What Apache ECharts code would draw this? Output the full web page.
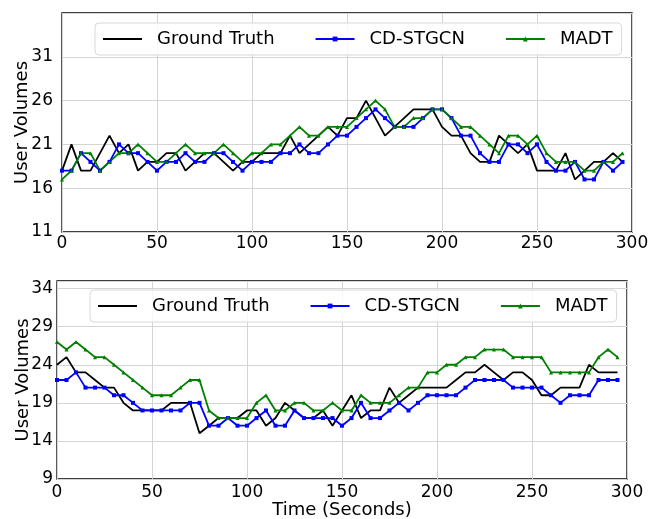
<!DOCTYPE html>
<html>
<head>
<meta charset="utf-8">
<script src="https://cdn.jsdelivr.net/npm/echarts@6/dist/echarts.min.js"></script>
<style>
html,body{margin:0;padding:0;background:#fff;}
#chart{width:662px;height:519px;}
</style>
</head>
<body>
<div id="chart"></div>
<script>
const times = [0,5,10,15,20,25,30,35,40,45,50,55,60,65,70,75,80,85,90,95,
  100,105,110,115,120,125,130,135,140,145,150,155,160,165,170,175,180,185,190,195,
  200,205,210,215,220,225,230,235,240,245,250,255,260,265,270,275,280,285,290,295];

const seriesNames = ['Ground Truth', 'CD-STGCN', 'MADT'];

// Top panel
const topTruth = [18,21,18,18,20,22,20,21,18,19,19,20,20,18,19,20,20,19,18,19,
  19,20,20,20,22,20,21,22,23,22,24,24,26,24,22,23,24,25,25,25,
  23,22,22,20,19,19,22,21,20,21,18,18,18,20,17,18,19,19,20,19];
const topCD = [18,18,20,19,18,19,21,20,20,19,18,19,19,20,19,19,20,20,19,18,
  19,19,19,20,20,21,20,20,21,22,22,23,24,25,24,23,23,23,24,25,
  25,24,22,22,20,19,19,21,21,20,21,19,18,18,19,17,17,19,18,19];
const topMADT = [17,18,20,20,18,19,20,20,21,20,19,19,20,21,20,20,20,21,20,19,
  20,20,21,21,22,23,22,22,23,23,23,24,25,26,25,23,23,24,24,25,
  25,24,23,23,22,21,20,22,22,21,22,20,19,19,19,18,18,19,19,20];

// Bottom panel
const botTruth = [24,25,23,23,22,21,21,19,18,18,18,18,19,19,19,15,16,17,17,17,
  18,18,16,17,19,18,17,17,18,16,18,20,17,18,18,21,19,20,21,21,
  21,21,22,23,23,24,23,22,23,23,22,20,20,21,21,21,24,23,23,23];
const botCD = [22,22,23,21,21,21,20,20,19,18,18,18,18,18,19,19,16,16,17,16,
  16,17,18,16,16,18,17,17,17,17,16,17,19,17,17,18,19,18,19,20,
  20,20,20,21,22,22,22,22,21,21,21,21,20,19,20,20,20,22,22,22];
const botMADT = [27,26,27,26,25,25,24,23,22,21,20,20,20,21,22,22,18,17,17,17,
  17,19,20,18,18,19,19,18,18,19,18,18,20,19,19,19,20,21,21,23,
  23,24,24,25,25,26,26,26,25,25,25,25,23,23,23,23,23,25,26,25];

const xTicks = {min: 0, max: 300, interval: 50};
const yTicksTop = {min: 11, max: 36, interval: 5};
const yTicksBot = {min: 9, max: 35, interval: 5};

const FONT = 'DejaVu Sans';
const pair = arr => times.map((t, i) => [t, arr[i]]);

function mkSeries(name, arr, idx) {
  const base = {
    name: name, type: 'line', xAxisIndex: idx, yAxisIndex: idx,
    data: pair(arr), z: 3
  };
  if (name === 'Ground Truth') {
    return Object.assign(base, {symbol: 'none', color: '#000000',
      lineStyle: {color: '#000000', width: 1.8}});
  } else if (name === 'CD-STGCN') {
    return Object.assign(base, {symbol: 'rect', symbolSize: 4, color: '#0000ff',
      itemStyle: {color: '#0000ff'}, lineStyle: {color: '#0000ff', width: 1.8}});
  }
  return Object.assign(base, {symbol: 'triangle', symbolSize: 4, color: '#008000',
    itemStyle: {color: '#008000'}, lineStyle: {color: '#008000', width: 1.8}});
}

function mkXAxis(idx, extra) {
  return Object.assign({
    gridIndex: idx, type: 'value', min: xTicks.min, max: xTicks.max, interval: xTicks.interval,
    axisLine: {show: false}, axisTick: {show: false},
    axisLabel: {fontSize: 17, color: '#000', fontFamily: FONT, margin: idx === 0 ? 3 : 5},
    splitLine: {show: true, lineStyle: {color: '#d4d4d4', width: 1}}
  }, extra || {});
}
function mkYAxis(idx, ticks, margin, gap) {
  return {
    gridIndex: idx, type: 'value', min: ticks.min, max: ticks.max, interval: ticks.interval,
    axisLine: {show: false}, axisTick: {show: false},
    axisLabel: {fontSize: 17, color: '#000', fontFamily: FONT, margin: margin, showMaxLabel: false},
    splitLine: {show: true, lineStyle: {color: '#d4d4d4', width: 1}},
    name: 'User Volumes', nameLocation: 'middle', nameGap: gap,
    nameMoveOverlap: false,
    nameTextStyle: {fontSize: 18, color: '#000', fontFamily: FONT}
  };
}
function mkLegend(left, top) {
  return {
    left: left, top: top, orient: 'horizontal',
    data: [
      {name: 'Ground Truth', itemStyle: {opacity: 0}},
      {name: 'CD-STGCN'},
      {name: 'MADT'}
    ],
    itemWidth: 39, itemHeight: 6, itemGap: 40,
    padding: [7, 9, 7, 7],
    borderColor: '#d8d8d8', borderWidth: 1, borderRadius: 4,
    backgroundColor: 'rgba(255,255,255,0.85)',
    textStyle: {fontSize: 18, color: '#000', fontFamily: FONT, padding: [0, 0, 0, 10]},
    selectedMode: false
  };
}

const chart = echarts.init(document.getElementById('chart'), null, {renderer: 'canvas'});
chart.setOption({
  animation: false,
  backgroundColor: '#ffffff',
  textStyle: {fontFamily: FONT},
  grid: [
    {left: 62, right: 30, top: 13, height: 219, show: true, borderColor: '#000', borderWidth: 1.3,
     backgroundColor: '#fff', containLabel: false, outerBoundsMode: 'none'},
    {left: 57, right: 35, top: 281, height: 198, show: true, borderColor: '#000', borderWidth: 1.3,
     backgroundColor: '#fff', containLabel: false, outerBoundsMode: 'none'}
  ],
  xAxis: [
    mkXAxis(0),
    mkXAxis(1, {name: 'Time (Seconds)', nameLocation: 'middle', nameGap: 22, nameMoveOverlap: false,
      nameTextStyle: {fontSize: 18, color: '#000', fontFamily: FONT}})
  ],
  yAxis: [mkYAxis(0, yTicksTop, 9, 31), mkYAxis(1, yTicksBot, 4, 25)],
  legend: [mkLegend(95, 23), mkLegend(90, 290)],
  series: [
    mkSeries('Ground Truth', topTruth, 0),
    mkSeries('CD-STGCN', topCD, 0),
    mkSeries('MADT', topMADT, 0),
    mkSeries('Ground Truth', botTruth, 1),
    mkSeries('CD-STGCN', botCD, 1),
    mkSeries('MADT', botMADT, 1)
  ]
});
</script>
</body>
</html>
